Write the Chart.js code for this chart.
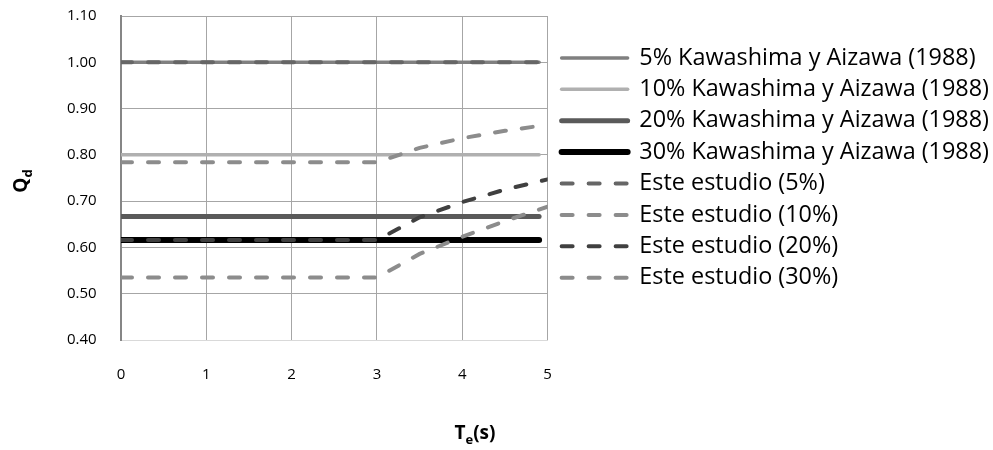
<!DOCTYPE html>
<html>
<head>
<meta charset="utf-8">
<script src="https://cdn.jsdelivr.net/npm/chart.js@4"></script>
<style>
  body { margin: 0; background: #fff; }
</style>
</head>
<body>
<canvas id="qdChart" width="993" height="450"></canvas>
<script>
// Te (s) positions
const kawaX = [0, 1, 2, 3, 4, 4.9];
const esteX = [0, 1, 2, 3, 3.5, 4, 4.5, 5];

// Kawashima y Aizawa (1988), constant Qd
const kawa5 = [1.00, 1.00, 1.00, 1.00, 1.00, 1.00];
const kawa10 = [0.80, 0.80, 0.80, 0.80, 0.80, 0.80];
const kawa20 = [0.667, 0.667, 0.667, 0.667, 0.667, 0.667];
const kawa30 = [0.616, 0.616, 0.616, 0.616, 0.616, 0.616];

// Este estudio
const este5 = [1.00, 1.00, 1.00, 1.00, 1.00, 1.00];
const este10 = [0.784, 0.784, 0.784, 0.784, 0.815, 0.836, 0.852, 0.865];
const este20 = [0.616, 0.616, 0.616, 0.616, 0.665, 0.698, 0.725, 0.747];
const este30 = [0.535, 0.535, 0.535, 0.535, 0.586, 0.623, 0.657, 0.688];

const labels = [
  '5% Kawashima y Aizawa (1988)',
  '10% Kawashima y Aizawa (1988)',
  '20% Kawashima y Aizawa (1988)',
  '30% Kawashima y Aizawa (1988)',
  'Este estudio (5%)',
  'Este estudio (10%)',
  'Este estudio (20%)',
  'Este estudio (30%)'
];

const yTicks = [0.4, 0.5, 0.6, 0.7, 0.8, 0.9, 1.0, 1.1];

const toPoints = (xs, ys) => ys.map((y, i) => ({ x: xs[i], y: y }));

function line(label, xs, ys, color, width, dashed) {
  return {
    label: label,
    data: toPoints(xs, ys),
    borderColor: color,
    backgroundColor: color,
    borderWidth: width,
    borderDash: dashed ? [11, 16] : [],
    borderCapStyle: 'round',
    pointRadius: 0,
    tension: 0,
    order: dashed ? 0 : 1 // dashed ones on top
  };
}

Chart.defaults.font.family = "'Open Sans', sans-serif";
Chart.defaults.color = '#000';

// axis titles with subscripts
const axisTitles = {
  id: 'axisTitles',
  afterLayout(chart) {
    // leave a small gap between plot and legend
    chart.legend.left += 6;
    chart.legend.right += 6;
  },
  afterDraw(chart) {
    const ctx = chart.ctx;
    const big = "bold 19px 'Open Sans', sans-serif";
    const small = "bold 13px 'Open Sans', sans-serif";
    function drawSub(main, sub, tail, cx, base) {
      ctx.font = big;
      const w1 = ctx.measureText(main).width;
      const w3 = ctx.measureText(tail).width;
      ctx.font = small;
      const w2 = ctx.measureText(sub).width;
      let x = cx - (w1 + w2 + w3) / 2;
      ctx.textBaseline = 'alphabetic';
      ctx.textAlign = 'left';
      ctx.font = big;
      ctx.fillText(main, x, base);
      x += w1;
      ctx.font = small;
      ctx.fillText(sub, x, base + 5);
      x += w2;
      ctx.font = big;
      ctx.fillText(tail, x, base);
    }
    ctx.save();
    ctx.fillStyle = '#000';
    drawSub('T', 'e', '(s)', 475, 439);
    ctx.translate(27, 181);
    ctx.rotate(-Math.PI / 2);
    drawSub('Q', 'd', '', 0, 0);
    ctx.restore();
  }
};

new Chart(document.getElementById('qdChart'), {
  type: 'line',
  data: {
    datasets: [
      line(labels[0], kawaX, kawa5, '#808080', 3.5, false),
      line(labels[1], kawaX, kawa10, '#b0b0b0', 3.5, false),
      line(labels[2], kawaX, kawa20, '#5a5a5a', 5, false),
      line(labels[3], kawaX, kawa30, '#000000', 6, false),
      line(labels[4], kawaX, este5, '#666666', 4, true),
      line(labels[5], esteX, este10, '#8c8c8c', 4, true),
      line(labels[6], esteX, este20, '#404040', 4, true),
      line(labels[7], esteX, este30, '#8c8c8c', 4, true)
    ]
  },
  options: {
    responsive: false,
    animation: false,
    layout: { padding: { left: 67, right: 0, top: 16, bottom: 40 } },
    scales: {
      x: {
        type: 'linear',
        min: 0,
        max: 5,
        ticks: { stepSize: 1, padding: 26, font: { size: 15 } },
        grid: { color: '#a6a6a6', drawTicks: false },
        border: { color: '#d9d9d9', width: 1 }
      },
      y: {
        min: 0.4,
        max: 1.1,
        afterBuildTicks: (scale) => { scale.ticks = yTicks.map(v => ({ value: v })); },
        afterFit: (scale) => { scale.width = 54; },
        ticks: {
          padding: 0,
          crossAlign: 'far',
          font: { size: 15 },
          callback: (v) => Number(v).toFixed(2)
        },
        grid: {
          drawTicks: false,
          color: (c) => (c.tick && Math.abs(c.tick.value - 0.4) < 1e-6) ? '#d9d9d9' : '#a6a6a6'
        },
        border: { color: '#868686', width: 2 }
      }
    },
    plugins: {
      tooltip: { enabled: false },
      legend: {
        position: 'right',
        align: 'start',
        maxWidth: 470,
        title: { display: true, text: ' ', font: { size: 1 }, padding: { top: 21, bottom: 0 } },
        labels: {
          usePointStyle: true,
          pointStyle: 'line',
          pointStyleWidth: 66,
          padding: 8,
          color: '#000',
          font: { size: 23.4 },
          sort: (a, b) => a.datasetIndex - b.datasetIndex,
          generateLabels(chart) {
            const items = Chart.defaults.plugins.legend.labels.generateLabels(chart);
            items.forEach((item) => {
              const ds = chart.data.datasets[item.datasetIndex];
              item.lineDash = ds.borderDash;
              item.lineCap = 'round';
              item.strokeStyle = ds.borderColor;
              item.lineWidth = ds.borderWidth;
            });
            return items;
          }
        }
      }
    }
  },
  plugins: [axisTitles]
});
</script>
</body>
</html>
